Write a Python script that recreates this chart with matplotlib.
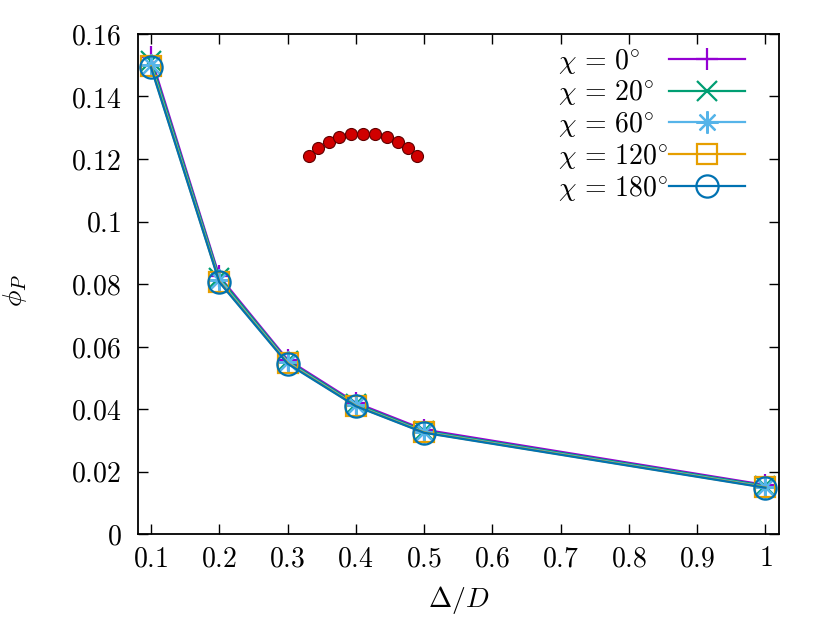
import matplotlib
matplotlib.use("Agg")
import matplotlib.pyplot as plt
from matplotlib.ticker import FuncFormatter

plt.rcParams['mathtext.fontset'] = 'cm'
plt.rcParams['font.family'] = ['DejaVu Serif']

# data
delta_D = [0.1, 0.2, 0.3, 0.4, 0.5, 1.0]
phi_chi0 = [0.1525, 0.0825, 0.0558, 0.0420, 0.0334, 0.0157]
phi_chi20 = [0.1515, 0.0820, 0.0554, 0.0416, 0.0330, 0.0154]
phi_chi60 = [0.1502, 0.0812, 0.0550, 0.0412, 0.0327, 0.0151]
phi_chi120 = [0.1496, 0.0808, 0.0547, 0.0410, 0.0325, 0.0149]
phi_chi180 = [0.1493, 0.0806, 0.0545, 0.0409, 0.0324, 0.0148]
labels = [r'$\chi\,=\,0^{\circ}$', r'$\chi\,=\,20^{\circ}$', r'$\chi\,=\,60^{\circ}$',
          r'$\chi\,=\,120^{\circ}$', r'$\chi\,=\,180^{\circ}$']

# decorative chain of spheres
chain_x = [0.3316, 0.3453, 0.3605, 0.3760, 0.3932, 0.4108, 0.4284, 0.4455, 0.4616, 0.4767, 0.4898]
chain_y = [0.1210, 0.1234, 0.1254, 0.1270, 0.1279, 0.1281, 0.1279, 0.1270, 0.1254, 0.1234, 0.1210]

x_ticks = [0.1, 0.2, 0.3, 0.4, 0.5, 0.6, 0.7, 0.8, 0.9, 1.0]
y_ticks = [0, 0.02, 0.04, 0.06, 0.08, 0.1, 0.12, 0.14, 0.16]

fig = plt.figure(figsize=(8.3, 6.25), dpi=100)
ax = fig.add_axes([0.1663, 0.1456, 0.7723, 0.8])

series = [phi_chi0, phi_chi20, phi_chi60, phi_chi120, phi_chi180]
colors = ['#9400d3', '#009e73', '#56b4e9', '#e69f00', '#0072b2']
markers = ['+', 'x', (8, 2, 0), 's', 'o']
sizes = [16, 15, 16, 15, 16]

for ys, c, m, ms, lab in zip(series, colors, markers, sizes, labels):
    ax.plot(delta_D, ys, color=c, marker=m, markersize=ms, linewidth=1.6,
            markeredgewidth=1.6, markerfacecolor='none', label=lab)

ax.scatter(chain_x, chain_y, s=75, color='#d00000', edgecolors='#600000',
           linewidths=0.8, zorder=5)

ax.set_xlim(0.081, 1.02)
ax.set_ylim(0, 0.16)
ax.set_xticks(x_ticks)
ax.set_yticks(y_ticks)
fmt = FuncFormatter(lambda v, p: '$%g$' % v)
ax.xaxis.set_major_formatter(fmt)
ax.yaxis.set_major_formatter(fmt)
ax.tick_params(direction='in', length=7, width=1, top=True, right=True,
               labelsize=20)
ax.tick_params(axis='y', pad=12)
ax.tick_params(axis='x', pad=8)
for s in ax.spines.values():
    s.set_linewidth(1.3)

ax.set_xlabel(r'$\Delta/D$', fontsize=20)
ax.set_ylabel(r'$\phi_P$', fontsize=20)
ax.xaxis.set_label_coords(0.5, -0.1)
ax.yaxis.set_label_coords(-0.17, 0.488)

leg = ax.legend(loc='upper right', bbox_to_anchor=(0.947, 0.975), frameon=False,
                markerfirst=False, fontsize=20, handlelength=2.75, handletextpad=0.0,
                labelspacing=0.1, borderpad=0, borderaxespad=0)

# gnuplot keys have left-aligned text in front of the samples:
# redraw the legend labels left-aligned at the position of the widest one
fig.canvas.draw()
anchors = [t.get_transform().transform(t.get_position()) for t in leg.get_texts()]
x_left = min(a[0] for a in anchors)
for t, (x, y) in zip(leg.get_texts(), anchors):
    fig.text(x_left, y, t.get_text(), transform=None, ha='left', va='baseline',
             fontsize=20)
    t.set_visible(False)

plt.savefig('out.png', dpi=100)
